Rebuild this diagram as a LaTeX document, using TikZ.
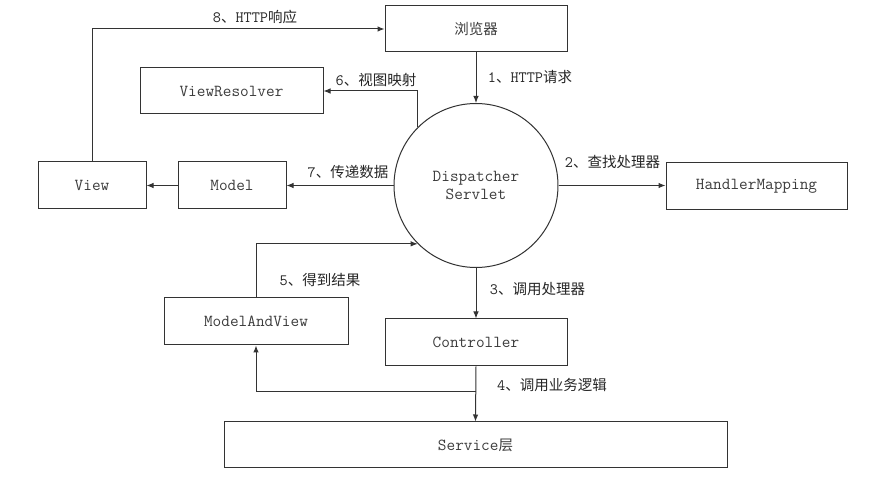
\documentclass[tikz,border=0pt]{standalone}
\usepackage{fontspec}
\newfontfamily\cjk{Noto Sans CJK SC}
\usetikzlibrary{arrows.meta}
\definecolor{lnc}{HTML}{333333}
\definecolor{txc}{HTML}{3C3C3C}
\newcommand{\zh}[1]{{\cjk\fontsize{14.5}{17}\selectfont #1}}
\begin{document}
\begin{tikzpicture}[x=1pt,y=-1pt,
  box/.style={draw=lnc,line width=1pt,rectangle,inner sep=0pt,text=txc,
    font=\ttfamily\fontsize{16.8}{18}\selectfont},
  conn/.style={draw=lnc,line width=1pt,-{Latex[length=7pt,width=5.5pt]}},
  lbl/.style={text=black!85,inner sep=0pt,font=\ttfamily\fontsize{15.8}{17}\selectfont}]
\useasboundingbox (0,0) rectangle (871,478);
\fill[white] (0,0) rectangle (871,478);
\node[box,minimum width=182pt,minimum height=46pt] (browser) at (476,29) {\zh{浏览器}};
\node[box,minimum width=183pt,minimum height=46pt] (viewres) at (231.5,91) {ViewResolver};
\node[box,minimum width=108pt,minimum height=47pt] (view) at (92,185.5) {View};
\node[box,minimum width=108pt,minimum height=47pt] (model) at (232,185.5) {Model};
\node[box,minimum width=181pt,minimum height=47pt] (handler) at (756.5,186.5) {HandlerMapping};
\node[box,minimum width=184pt,minimum height=47pt] (mav) at (256,321.5) {ModelAndView};
\node[box,minimum width=182pt,minimum height=47pt] (ctrl) at (476,342.5) {Controller};
\node[box,minimum width=503pt,minimum height=46pt] (service) at (475.5,445) {Service\zh{层}};
\node[box,circle,minimum size=164pt,align=center] (ds) at (476,185.5) {Dispatcher\\Servlet};
\coordinate (split) at (476,392);
% connectors
\draw[conn] (view.north) |- (browser.west);
\draw[conn] (browser.south) -- (ds.north);
\draw[conn] (ds.135) |- (viewres.east);
\draw[conn] (ds.east) -- (ds.east -| handler.west);
\draw[conn] (ds.west) -- (model.east);
\draw[conn] (model.west) -- (view.east);
\draw[conn] (mav.north) |- (ds.225);
\draw[conn] (ds.south) -- (ctrl.north);
\draw[conn] (ctrl.south) -- (service.north);
\draw[conn] (split) -| (mav.south);
% labels
\node[lbl] (l8) at (255,17) {8\zh{、}HTTP\zh{响应}};
\node[lbl] (l6) at (376,80) {6\zh{、视图映射}};
\node[lbl] (l1) at (530,77) {1\zh{、}HTTP\zh{请求}};
\node[lbl] (l2) at (612.5,162) {2\zh{、查找处理器}};
\node[lbl] (l7) at (348,172) {7\zh{、传递数据}};
\node[lbl] (l5) at (320,280) {5\zh{、得到结果}};
\node[lbl] (l3) at (537.5,289) {3\zh{、调用处理器}};
\node[lbl] (l4) at (552,385) {4\zh{、调用业务逻辑}};
\end{tikzpicture}
\end{document}
